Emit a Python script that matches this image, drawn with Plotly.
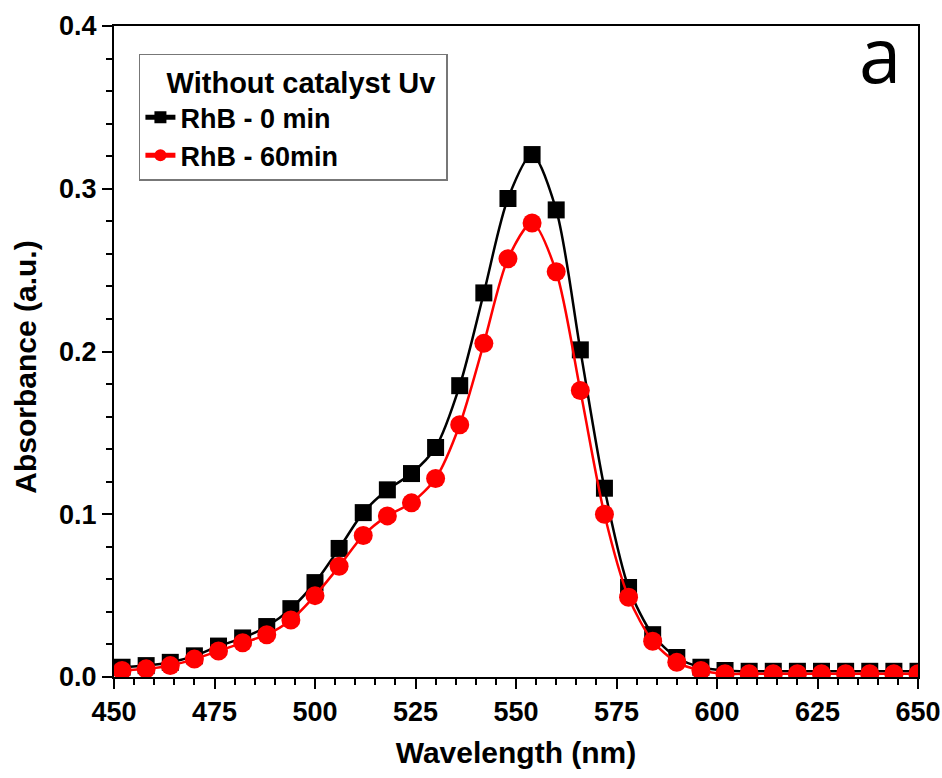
import plotly.graph_objects as go

wavelength = [452, 458, 464, 470, 476, 482, 488, 494, 500, 506, 512, 518, 524, 530, 536, 542,
              548, 554, 560, 566, 572, 578, 584, 590, 596, 602, 608, 614, 620, 626, 632, 638, 644, 650]
rhb_0 = [0.006, 0.007, 0.009, 0.013, 0.019, 0.024, 0.031, 0.042, 0.058, 0.079, 0.101, 0.115,
         0.125, 0.141, 0.179, 0.236, 0.294, 0.321, 0.287, 0.201, 0.116, 0.055, 0.026, 0.012,
         0.006, 0.004, 0.0035, 0.0035, 0.0035, 0.0035, 0.0035, 0.0035, 0.0035, 0.0035]
rhb_60 = [0.004, 0.005, 0.007, 0.011, 0.016, 0.021, 0.026, 0.035, 0.050, 0.068, 0.087, 0.099,
          0.107, 0.122, 0.155, 0.205, 0.257, 0.279, 0.249, 0.176, 0.100, 0.049, 0.022, 0.009,
          0.004, 0.002, 0.002, 0.002, 0.002, 0.002, 0.002, 0.002, 0.002, 0.002]

x_ticks = [450, 475, 500, 525, 550, 575, 600, 625, 650]
y_ticks = [0.0, 0.1, 0.2, 0.3, 0.4]

FONT = "Liberation Sans"
NB = "\u00a0"

fig = go.Figure()
fig.add_trace(go.Scatter(
    x=wavelength, y=rhb_0, name="RhB - 0 min", mode="lines+markers",
    line=dict(color="black", width=2.5, shape="spline", smoothing=0.8),
    marker=dict(symbol="square", size=17, color="black"),
))
fig.add_trace(go.Scatter(
    x=wavelength, y=rhb_60, name="RhB - 60min", mode="lines+markers",
    line=dict(color="#ff0000", width=2.5, shape="spline", smoothing=0.8),
    marker=dict(symbol="circle", size=19, color="#ff0000"),
))

axis_common = dict(
    showline=True, linecolor="black", linewidth=2, mirror=True,
    ticks="outside", ticklen=10, tickwidth=2, tickcolor="black",
    showgrid=False, zeroline=False, automargin=False,
    tickfont=dict(family=FONT, size=27, color="black", weight="bold"),
)

fig.update_xaxes(
    range=[450, 650], tickvals=x_ticks, ticktext=[str(v) for v in x_ticks],
    minor=dict(dtick=5, ticklen=6, tickwidth=1.5, tickcolor="black", ticks="outside", showgrid=False),
    title=dict(text="Wavelength (nm)", font=dict(family=FONT, size=30, color="black", weight="bold"), standoff=16),
    **axis_common,
)
fig.update_yaxes(
    range=[0, 0.4], tickvals=y_ticks, ticktext=["%.1f" % v for v in y_ticks],
    minor=dict(dtick=0.02, ticklen=6, tickwidth=1.5, tickcolor="black", ticks="outside", showgrid=False),
    **axis_common,
)

fig.update_layout(
    width=942, height=778,
    margin=dict(l=114, r=24, t=26, b=101, autoexpand=False),
    paper_bgcolor="white", plot_bgcolor="white",
    showlegend=True,
    legend=dict(
        x=0.031, y=0.957, xanchor="left", yanchor="top",
        bgcolor="white", bordercolor="#777777", borderwidth=1.5,
        title=dict(text=NB * 3 + "Without catalyst Uv" + NB,
                   font=dict(family=FONT, size=29, color="black", weight="bold")),
        font=dict(family=FONT, size=27, color="black", weight="bold"),
        itemsizing="constant",
        tracegroupgap=0,
    ),
    annotations=[
        dict(text="a", x=0.953, y=0.958, xref="paper", yref="paper",
             showarrow=False, font=dict(family="Open Sans", size=76, color="black"),
             xanchor="center", yanchor="middle"),
        dict(text="Absorbance (a.u.)", x=-0.11, y=0.476, xref="paper", yref="paper",
             showarrow=False, textangle=-90,
             font=dict(family=FONT, size=30, color="black", weight="bold"),
             xanchor="center", yanchor="middle"),
    ],
)

fig.write_html("out.html")
